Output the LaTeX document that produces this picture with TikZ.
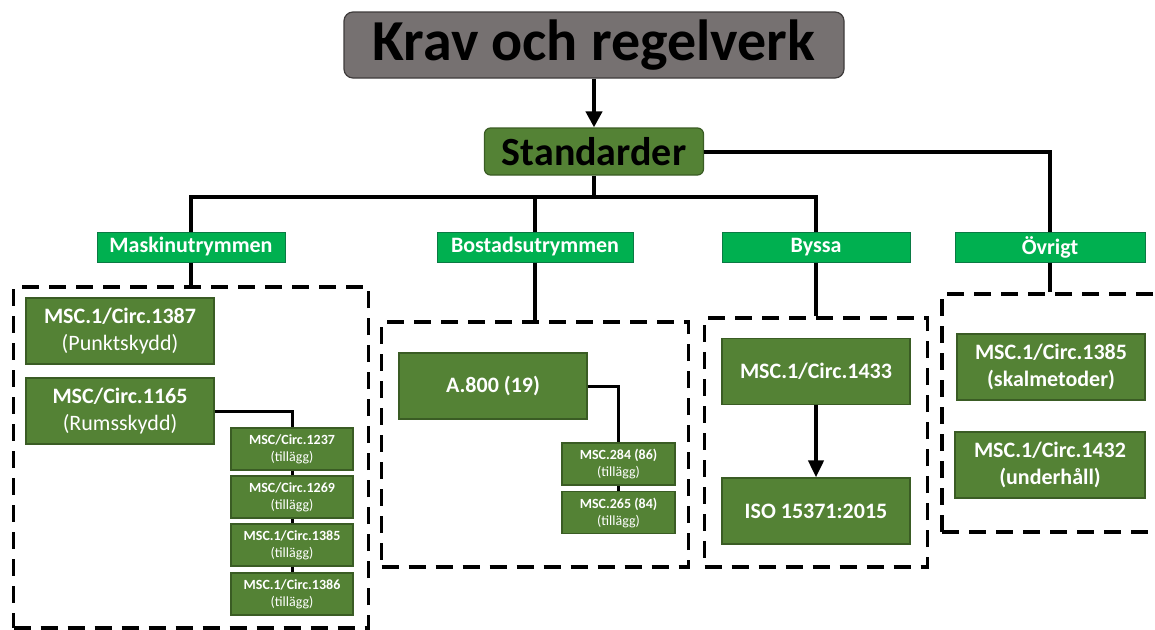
\documentclass[tikz,border=0pt]{standalone}
\usepackage{fontspec}
\setmainfont{Carlito}
\usetikzlibrary{arrows.meta}
\definecolor{titlegray}{HTML}{767171}
\definecolor{titleline}{HTML}{3F3C3C}
\definecolor{boxgreen}{HTML}{548235}
\definecolor{boxline}{HTML}{3A5C24}
\definecolor{headgreen}{HTML}{00B050}
\definecolor{headline}{HTML}{0A7A44}
\begin{document}
\begin{tikzpicture}[x=1pt,y=-1pt,>={Triangle[length=16pt,width=16pt]},
	tree/.style = {line width=4pt},
	thintree/.style = {line width=3pt},
	group/.style = {draw,line width=3.5pt,dash pattern=on 17pt off 10pt,inner sep=0pt},
	head/.style = {draw=headline,fill=headgreen,text=white,line width=1pt,inner sep=0pt,minimum width=188pt,minimum height=30pt,font=\fontsize{22}{26}\selectfont\bfseries},
	doc/.style = {draw=boxline,fill=boxgreen,text=white,align=center,line width=1.2pt,inner sep=0pt,minimum width=188pt,minimum height=66pt,font=\fontsize{22}{27}\selectfont},
	add/.style = {doc,minimum width=122pt,minimum height=42pt,font=\fontsize{14}{17}\selectfont}
	]
	\useasboundingbox (0,0) rectangle (1155,629);
	%TITOLO
	\node[draw=titleline,fill=titlegray,rounded corners=9pt,line width=1.2pt,minimum width=500pt,minimum height=66pt,inner sep=0pt,font=\fontsize{58}{60}\selectfont\bfseries] (krav) at (594,45) {Krav och regelverk};
	\node[draw=boxline,fill=boxgreen,rounded corners=6pt,line width=1.2pt,minimum width=219pt,minimum height=47pt,inner sep=0pt,font=\fontsize{40}{44}\selectfont\bfseries] (std) at (594,151.5) {Standarder};
	\draw[tree,->] (krav) -- (std);
	%RUBRIKER
	\node[head] (mask) at (191,247) {Maskinutrymmen};
	\node[head,minimum width=196pt] (bost) at (535,247) {Bostadsutrymmen};
	\node[head] (byssa) at (816,247) {Byssa};
	\node[head,minimum width=190pt] (ovr) at (1050,247) {Övrigt};
	\coordinate (bar) at (0,197);
	\draw[tree] (std.south) -- (std.south |- bar);
	\draw[tree] (mask.north) |- (byssa.north |- bar) -- (byssa.north);
	\draw[tree] (bost.north) -- (bost.north |- bar);
	\draw[tree] (std.east) -| (ovr.north);
	%GRUPPER
	\node[group,minimum width=355pt,minimum height=341pt] (g1) at (191,457.5) {};
	\node[group,minimum width=307pt,minimum height=245pt] (g2) at (535,444.5) {};
	\node[group,minimum width=223pt,minimum height=249pt] (g3) at (816,442.5) {};
	\node[group,minimum width=216pt,minimum height=238pt] (g4) at (1050,413) {};
	\draw[tree] (mask.south) -- (g1.north);
	\draw[tree] (bost.south) -- (g2.north);
	\draw[tree] (byssa.south) -- (g3.north);
	\draw[tree] (ovr.south) -- (g4.north);
	%MASKINUTRYMMEN
	\node[doc] (punkt) at (120,331) {\textbf{MSC.1/Circ.1387}\\(Punktskydd)};
	\node[doc] (rums) at (120,411) {\textbf{MSC/Circ.1165}\\(Rumsskydd)};
	\node[add] (c1237) at (292,449) {\textbf{MSC/Circ.1237}\\(tillägg)};
	\node[add] (c1269) at (292,497) {\textbf{MSC/Circ.1269}\\(tillägg)};
	\node[add] (c1385) at (292,545) {\textbf{MSC.1/Circ.1385}\\(tillägg)};
	\node[add] (c1386) at (292,594) {\textbf{MSC.1/Circ.1386}\\(tillägg)};
	\draw[thintree] (rums.east) -| (c1237.north);
	\draw[thintree] (c1237) -- (c1269);
	\draw[thintree] (c1269) -- (c1385);
	\draw[thintree] (c1385) -- (c1386);
	%BOSTADSUTRYMMEN
	\node[doc,font=\fontsize{22}{27}\selectfont\bfseries] (a800) at (493,386) {A.800 (19)};
	\node[add,minimum width=113pt] (m284) at (618.5,464) {\textbf{MSC.284 (86)}\\(tillägg)};
	\node[add,minimum width=113pt] (m265) at (618.5,512.5) {\textbf{MSC.265 (84)}\\(tillägg)};
	\draw[thintree] (a800.east) -| (m284.north);
	\draw[thintree] (m284) -- (m265);
	%BYSSA
	\node[doc,font=\fontsize{22}{27}\selectfont\bfseries] (c1433) at (816,371.5) {MSC.1/Circ.1433};
	\node[doc,font=\fontsize{22}{27}\selectfont\bfseries] (iso) at (816,511) {ISO 15371:2015};
	\draw[tree,->,>={Triangle[length=17pt,width=15pt]}] (c1433) -- (iso);
	%ÖVRIGT
	\node[doc,font=\fontsize{22}{27}\selectfont\bfseries] (skal) at (1051,367) {MSC.1/Circ.1385\\(skalmetoder)};
	\node[doc,minimum width=190pt,font=\fontsize{22}{27}\selectfont\bfseries] (underh) at (1050,465) {MSC.1/Circ.1432\\(underhåll)};
\end{tikzpicture}
\end{document}
